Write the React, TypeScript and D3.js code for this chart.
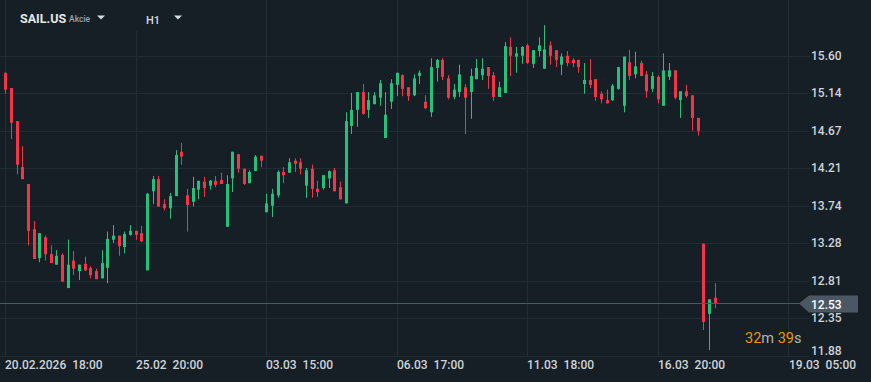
import React from "react";
import * as d3 from "d3";

const opens = [15.39,15.20,14.79,14.22,14.01,13.45,13.09,13.35,13.14,13.01,13.13,12.72,13.06,12.93,13.02,12.97,12.93,12.84,12.97,13.32,13.37,13.23,13.38,13.43,13.40,12.94,13.92,14.07,13.76,13.71,13.86,14.41,13.87,13.79,13.94,14.04,13.99,14.05,14.06,13.48,14.08,14.38,14.20,14.02,14.17,14.36,13.66,13.74,13.87,14.16,14.15,14.30,14.28,13.99,14.20,13.95,13.96,14.08,14.18,13.97,13.77,14.73,14.93,15.15,14.93,15.00,15.08,14.58,15.03,15.24,15.36,15.21,15.11,15.35,15.03,14.90,15.45,15.55,15.32,15.09,15.15,15.21,15.15,15.31,15.36,15.46,15.36,15.09,15.14,15.71,15.59,15.60,15.73,15.50,15.66,15.44,15.73,15.67,15.49,15.60,15.55,15.55,15.25,15.30,15.31,15.13,15.05,15.05,15.19,14.98,15.52,15.37,15.51,15.37,15.19,15.34,14.98,15.34,15.42,15.05,15.16,15.11,14.83,13.27,12.40,12.60];
const highs = [15.39,15.20,14.79,14.48,14.01,13.55,13.40,13.37,13.25,13.19,13.15,13.32,13.18,13.01,13.11,12.99,12.96,13.19,13.42,13.50,13.37,13.42,13.50,13.43,13.49,13.90,14.11,14.11,13.82,13.90,14.43,14.52,13.95,14.10,14.05,14.10,14.06,14.11,14.15,14.12,14.41,14.38,14.20,14.18,14.37,14.36,13.89,13.95,14.18,14.22,14.33,14.33,14.33,14.21,14.25,14.05,14.12,14.18,14.21,14.04,14.90,15.14,15.15,15.25,15.15,15.15,15.30,15.15,15.31,15.39,15.37,15.21,15.37,15.42,15.11,15.57,15.56,15.57,15.36,15.25,15.49,15.25,15.44,15.56,15.57,15.46,15.40,15.28,15.77,15.83,15.71,15.72,15.75,15.67,15.83,15.98,15.78,15.67,15.63,15.66,15.57,15.55,15.51,15.56,15.31,15.16,15.18,15.25,15.46,15.59,15.67,15.65,15.54,15.41,15.40,15.36,15.63,15.51,15.42,15.16,15.24,15.11,14.83,13.27,12.58,12.78];
const lows = [15.13,14.57,14.13,14.07,13.25,13.08,13.04,13.06,13.03,13.01,12.80,12.72,12.88,12.82,12.93,12.84,12.83,12.84,12.78,13.28,13.12,13.15,13.37,13.32,13.29,12.94,13.76,13.73,13.68,13.58,13.86,14.25,13.42,13.73,13.82,13.85,13.94,13.97,14.01,13.48,13.91,14.15,14.00,14.02,14.17,14.22,13.66,13.60,13.84,14.02,14.15,14.16,14.13,13.84,13.84,13.85,13.94,13.96,13.92,13.82,13.77,14.63,14.72,14.87,14.83,15.00,14.98,14.58,14.94,15.10,15.10,15.04,15.10,15.25,14.94,14.84,15.28,15.30,15.06,15.06,15.09,14.63,14.82,15.31,15.30,15.19,15.04,15.09,15.14,15.35,15.39,15.50,15.50,15.45,15.59,15.44,15.49,15.46,15.36,15.47,15.46,15.39,15.13,15.20,15.04,15.01,15.01,15.04,15.18,14.90,15.30,15.32,15.35,15.08,15.15,15.01,14.98,15.30,15.06,14.83,15.08,14.67,14.61,12.20,11.95,12.47];
const closes = [15.18,14.77,14.25,14.07,13.43,13.08,13.40,13.14,13.03,13.12,12.80,13.01,12.96,13.01,12.94,12.88,12.83,13.03,13.33,13.37,13.24,13.39,13.43,13.38,13.30,13.89,14.07,13.73,13.71,13.86,14.37,14.35,13.75,13.96,14.05,13.96,14.05,14.00,14.01,14.01,14.41,14.20,14.01,14.16,14.35,14.30,13.77,13.89,14.16,14.12,14.28,14.26,14.20,14.18,13.95,13.91,14.12,14.17,13.92,13.82,14.79,14.93,15.15,14.88,15.05,15.11,15.26,14.87,15.26,15.39,15.19,15.10,15.32,15.39,14.95,15.46,15.55,15.34,15.08,15.18,15.37,15.08,15.35,15.45,15.44,15.35,15.09,15.21,15.72,15.60,15.63,15.71,15.51,15.67,15.73,15.68,15.60,15.55,15.59,15.51,15.51,15.46,15.30,15.24,15.09,15.06,15.01,15.23,15.46,15.59,15.35,15.47,15.35,15.16,15.35,15.06,15.42,15.42,15.08,15.16,15.10,14.83,14.67,12.30,12.58,12.53];

const priceTicks = [15.60, 15.14, 14.67, 14.21, 13.74, 13.28, 12.81, 12.35, 11.88];
const timeTickIndex = [0, 23, 46, 69, 92, 115, 138];
const timeTickLabels = ["20.02.2026  18:00", "25.02  20:00", "03.03  15:00", "06.03  17:00", "11.03  18:00", "16.03  20:00", "19.03  05:00"];

const W = 871, H = 382;
const BG = "#161f26";
const GRID = "#222c33";
const RED = "#f23648";
const GREEN = "#22c17c";
const TXT = "#cfd3d8";

export default function App() {
  const x = d3.scaleLinear().domain([0, 138]).range([5.3, 788.3]);
  const y = d3.scaleLinear().domain([11.88, 15.60]).range([355.8, 55.8]);
  const last = closes[closes.length - 1];
  const ly = y(last);
  const bw = 3;
  const font = "Roboto, 'Noto Sans', sans-serif";

  return (
    <svg width={W} height={H} style={{ position: "fixed", left: 0, top: 0, display: "block" }} fontFamily={font}>
      <rect x={0} y={0} width={W} height={H} fill={BG} />
      {priceTicks.map((p, i) => (
        <line key={"hg" + i} x1={0} x2={809} y1={Math.round(y(p)) + 0.5} y2={Math.round(y(p)) + 0.5} stroke={GRID} strokeWidth={1} />
      ))}
      {timeTickIndex.map((t, i) => (
        <line key={"vg" + i} x1={Math.round(x(t)) + 0.5} x2={Math.round(x(t)) + 0.5} y1={0} y2={356} stroke={GRID} strokeWidth={1} />
      ))}
      {/* header boxes hide grid tops */}
      <rect x={8} y={0} width={115} height={14} fill={BG} />
      <rect x={128} y={0} width={64} height={31} fill={BG} />
      {/* candles */}
      {opens.map((o, i) => {
        const c = closes[i];
        const up = c >= o;
        const col = up ? GREEN : RED;
        const cx = x(i);
        const top = y(Math.max(o, c));
        const bot = y(Math.min(o, c));
        return (
          <g key={"c" + i}>
            <line x1={Math.round(cx) + 0.5} x2={Math.round(cx) + 0.5} y1={y(highs[i])} y2={y(lows[i])} stroke={col} strokeWidth={1} />
            <rect x={Math.round(cx) + 0.5 - bw / 2} y={top} width={bw} height={Math.max(1, bot - top)} fill={col} />
          </g>
        );
      })}
      {/* current price line */}
      <line x1={0} x2={800} y1={Math.round(ly) + 0.5} y2={Math.round(ly) + 0.5} stroke="#4c5a64" strokeWidth={1} />
      {/* price labels */}
      {priceTicks.map((p, i) => (
        <text key={"pl" + i} x={811} y={i === priceTicks.length - 1 ? 351 : y(p)} dy="0.35em" fill={TXT} fontSize={12} fontWeight={500}>
          {p.toFixed(2)}
        </text>
      ))}
      <path d={`M799,${ly} L809,${ly - 8} L858,${ly - 8} L858,${ly + 9} L809,${ly + 9} Z`} fill="#4b5863" />
      <text x={811} y={ly + 1} dy="0.35em" fill="#ffffff" fontSize={12} fontWeight={500}>{last.toFixed(2)}</text>
      {/* time labels */}
      {timeTickIndex.map((t, i) => (
        <text key={"tl" + i} x={Math.round(x(t)) + (i === timeTickIndex.length - 1 ? 1 : 0)} y={364.5} dy="0.35em" fill={TXT} fontSize={12} fontWeight={500} style={{ whiteSpace: "pre" }}>
          {timeTickLabels[i]}
        </text>
      ))}
      {/* countdown */}
      <text x={745} y={338} dy="0.35em" fontSize={14.5}>
        <tspan fill="#f0920f">32</tspan>
        <tspan fill="#aeb4ba">m </tspan>
        <tspan fill="#f0920f">39</tspan>
        <tspan fill="#aeb4ba">s</tspan>
      </text>
      {/* header */}
      <text x={20} y={19} dy="0.35em" fill="#e4e7ea" fontSize={12.5} fontWeight={700}>SAIL.US</text>
      <text x={69} y={19.5} dy="0.35em" fill="#9aa3ab" fontSize={8.5} fontWeight={500}>Akcie</text>
      <path d="M97,15.5 L105,15.5 L101,19.5 Z" fill="#d8dcdf" />
      <text x={146} y={20} dy="0.35em" fill="#d8dcdf" fontSize={11} fontWeight={500}>H1</text>
      <path d="M174,15.5 L182,15.5 L178,19.5 Z" fill="#d8dcdf" />
    </svg>
  );
}
